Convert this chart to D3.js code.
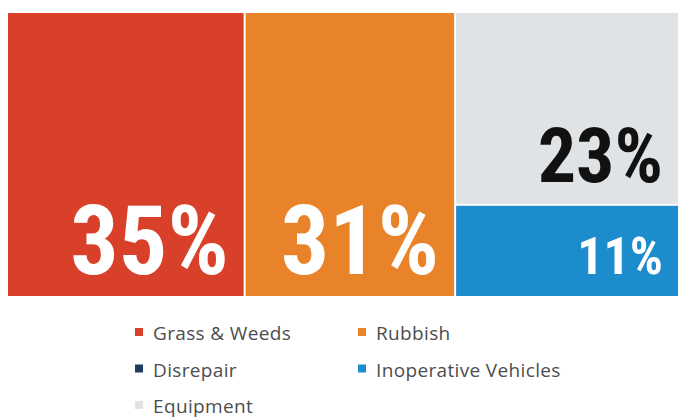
<!DOCTYPE html>
<html><head><meta charset="utf-8">
<script src="https://cdn.jsdelivr.net/npm/d3@7"></script>
<style>
html,body{margin:0;padding:0;background:#fff;}
svg{display:block;}
</style></head>
<body>
<svg id="chart" width="678" height="418"></svg>
<script>
// ---- data ----
const categories = ["Grass & Weeds", "Rubbish", "Disrepair", "Inoperative Vehicles", "Equipment"];
const values     = [35, 31, 0, 11, 23];
const groups     = ["Grass & Weeds", "Rubbish", "Other", "Other", "Other"]; // column each category sits in
const stackOrder = ["Equipment", "Disrepair", "Inoperative Vehicles"];      // top-to-bottom in shared column

// ---- styles ----
const colors = {
  "Grass & Weeds": "#d9402a",
  "Rubbish": "#e8832a",
  "Disrepair": "#1c3b5e",
  "Inoperative Vehicles": "#1d8ccc",
  "Equipment": "#dfe3e6"
};
const labelColors = { "Equipment": "#111111" };
const labelSizes = { "Grass & Weeds": 96, "Rubbish": 96, "Equipment": 76, "Inoperative Vehicles": 52 };

const W = 678, H = 418;
const margin = { left: 8, top: 13 };
const plotW = 677, plotH = 283;

const svg = d3.select("#chart");

// build hierarchy
const groupNames = Array.from(new Set(groups));
const rootData = {
  name: "root",
  children: groupNames.map(g => {
    const members = categories.map((c, i) => ({ name: c, value: values[i], group: groups[i] }))
      .filter(d => d.group === g);
    if (members.length === 1) return { name: members[0].name, value: members[0].value };
    members.sort((a, b) => stackOrder.indexOf(a.name) - stackOrder.indexOf(b.name));
    return { name: g, children: members.map(m => ({ name: m.name, value: m.value })) };
  })
};

const root = d3.hierarchy(rootData).sum(d => d.value || 0);
d3.treemap()
  .tile(d3.treemapSliceDice)
  .size([plotW, plotH])
  .paddingInner(2)
  .round(false)(root);

const g = svg.append("g").attr("transform", `translate(${margin.left},${margin.top})`);
const leaves = root.leaves().filter(d => d.value > 0);

g.selectAll("rect.cell").data(leaves).join("rect")
  .attr("class", "cell")
  .attr("x", d => d.x0).attr("y", d => d.y0)
  .attr("width", d => d.x1 - d.x0).attr("height", d => d.y1 - d.y0)
  .attr("fill", d => colors[d.data.name]);

const visibleRight = W - margin.left;
g.selectAll("text.lbl").data(leaves).join("text")
  .attr("class", "lbl")
  .attr("x", d => Math.min(d.x1, visibleRight) - 15)
  .attr("y", d => d.y1 - 22)
  .attr("text-anchor", "end")
  .attr("font-family", "'Liberation Sans Narrow', 'Roboto Condensed', 'DejaVu Sans Condensed', sans-serif")
  .attr("font-weight", "bold")
  .attr("font-size", d => labelSizes[d.data.name])
  .attr("fill", d => labelColors[d.data.name] || "#ffffff")
  .text(d => d.data.value + "%");

// ---- legend ----
const legendCols = [135, 358];
const legendRowStep = 36.5;
const legendTop = 340;
const lg = svg.append("g").attr("class", "legend");
const items = lg.selectAll("g").data(categories).join("g")
  .attr("transform", (d, i) => `translate(${legendCols[i % 2]},${legendTop + Math.floor(i / 2) * legendRowStep})`);
items.append("rect")
  .attr("x", 0).attr("y", -12).attr("width", 8).attr("height", 8)
  .attr("fill", d => colors[d]);
items.append("text")
  .attr("x", 18).attr("y", 0)
  .attr("font-family", "'Open Sans', 'Noto Sans', sans-serif")
  .attr("font-size", 19)
  .attr("letter-spacing", 0.35)
  .attr("fill", "#4d4d4d")
  .text(d => d);
</script>
</body></html>
